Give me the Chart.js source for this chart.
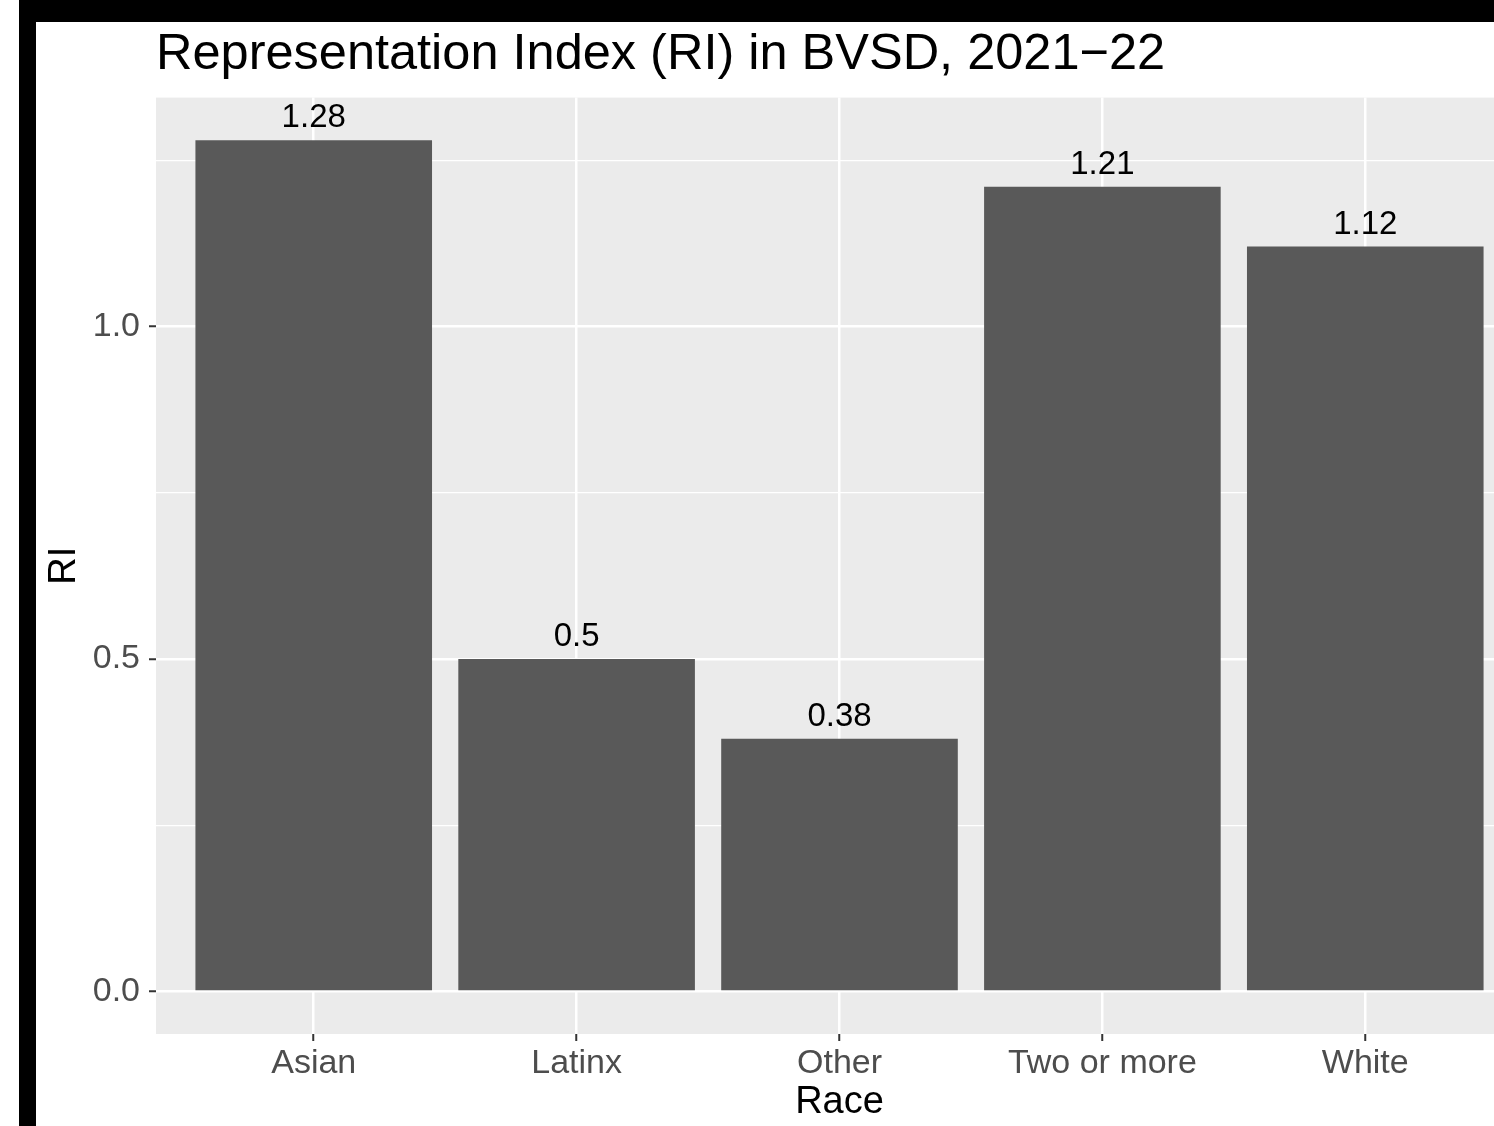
<!DOCTYPE html>
<html>
<head>
<meta charset="utf-8">
<script src="https://cdn.jsdelivr.net/npm/chart.js@4/dist/chart.umd.min.js"></script>
<style>
  body { margin: 0; background: #fff; overflow: hidden; }
  #box { width: 1523px; height: 1126px; position: relative; }
</style>
</head>
<body>
<div id="box"><canvas id="grafico"></canvas></div>
<script>
// dados do grafico
var racas = ['Asian', 'Latinx', 'Other', 'Two or more', 'White'];
var valoresRI = [1.28, 0.5, 0.38, 1.21, 1.12];
var rotulosBarra = ['1.28', '0.5', '0.38', '1.21', '1.12'];
var ticksY = [0, 0.25, 0.5, 0.75, 1.0, 1.25];
var ticksYRotulados = [0, 0.5, 1.0];

var fonte = '"Liberation Sans", Arial, sans-serif';

// fundo, faixas pretas e painel cinza
var fundo = {
  id: 'fundo',
  beforeDraw: function(chart) {
    var ctx = chart.ctx, a = chart.chartArea;
    ctx.save();
    ctx.fillStyle = '#ffffff';
    ctx.fillRect(0, 0, chart.width, chart.height);
    ctx.fillStyle = '#000000';
    ctx.fillRect(19, 0, chart.width - 19, 22);
    ctx.fillRect(19, 0, 17, chart.height);
    ctx.fillStyle = '#ebebeb';
    ctx.fillRect(a.left, a.top, a.right - a.left, a.bottom - a.top);
    ctx.restore();
  }
};

// rotulos em cima das barras
var rotulos = {
  id: 'rotulos',
  afterDatasetsDraw: function(chart) {
    var ctx = chart.ctx;
    var meta = chart.getDatasetMeta(0);
    ctx.save();
    ctx.fillStyle = '#000000';
    ctx.font = '33px ' + fonte;
    ctx.textAlign = 'center';
    ctx.textBaseline = 'alphabetic';
    meta.data.forEach(function(barra, i) {
      ctx.fillText(rotulosBarra[i], barra.x, barra.y - 13);
    });
    ctx.restore();
  }
};

var ctx = document.getElementById('grafico').getContext('2d');
var chart = new Chart(ctx, {
  type: 'bar',
  data: {
    datasets: [{
      label: 'RI',
      data: valoresRI.map(function(v, i) { return { x: i, y: v }; }),
      backgroundColor: '#595959',
      borderWidth: 0,
      barPercentage: 0.9,
      categoryPercentage: 1.0
    }]
  },
  options: {
    responsive: true,
    maintainAspectRatio: false,
    animation: false,
    devicePixelRatio: 1,
    layout: { padding: { left: 36, top: 0, right: 0, bottom: 0 } },
    plugins: {
      legend: { display: false },
      tooltip: { enabled: false },
      title: {
        display: true,
        text: 'Representation Index (RI) in BVSD, 2021\u221222',
        align: 'start',
        fullSize: false,
        color: '#000000',
        font: { family: fonte, size: 50.5, weight: 'normal' },
        padding: { top: 25, bottom: 12 }
      }
    },
    scales: {
      x: {
        type: 'linear',
        min: -0.6,
        max: 4.6,
        offset: false,
        afterBuildTicks: function(s) {
          s.ticks = racas.map(function(r, i) { return { value: i }; });
        },
        afterFit: function(s) { s.height = 92; },
        border: { display: false },
        grid: {
          offset: false,
          color: '#ffffff',
          lineWidth: 2.5,
          tickColor: '#333333',
          tickLength: 7,
          tickWidth: 2
        },
        ticks: {
          color: '#4d4d4d',
          font: { family: fonte, size: 34 },
          padding: 2,
          maxRotation: 0,
          autoSkip: false,
          callback: function(v) { return racas[v]; }
        },
        title: {
          display: true,
          text: 'Race',
          color: '#000000',
          font: { family: fonte, size: 38 },
          padding: { top: 0, bottom: 1 }
        }
      },
      y: {
        min: -0.064,
        max: 1.344,
        afterBuildTicks: function(s) {
          s.ticks = ticksY.map(function(v) { return { value: v }; });
        },
        afterFit: function(s) { s.width = 120; },
        border: { display: false },
        grid: {
          color: '#ffffff',
          lineWidth: function(c) {
            return ticksYRotulados.indexOf(c.tick.value) >= 0 ? 2.5 : 1.2;
          },
          tickColor: function(c) {
            return ticksYRotulados.indexOf(c.tick.value) >= 0 ? '#333333' : 'rgba(0,0,0,0)';
          },
          tickLength: 7,
          tickWidth: 2
        },
        ticks: {
          color: '#4d4d4d',
          font: { family: fonte, size: 34 },
          padding: 9,
          autoSkip: false,
          callback: function(v) {
            return ticksYRotulados.indexOf(v) >= 0 ? v.toFixed(1) : '';
          }
        },
        title: {
          display: true,
          text: 'RI',
          color: '#000000',
          font: { family: fonte, size: 38 },
          padding: { top: 6, bottom: 0 }
        }
      }
    }
  },
  plugins: [fundo, rotulos]
});
</script>
</body>
</html>
